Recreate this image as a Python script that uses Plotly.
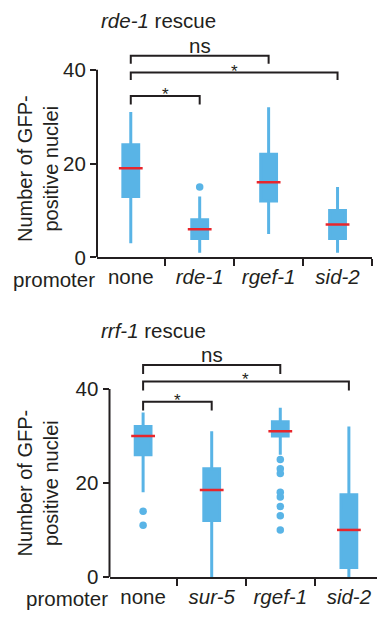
import plotly.graph_objects as go

# ---------------- data ----------------
top_categories = ["none", "rde-1", "rgef-1", "sid-2"]
top_tick_labels = ["none", "<i>rde-1</i>", "<i>rgef-1</i>", "<i>sid-2</i>"]
top_lower = [3, 1, 5, 1]
top_q1 = [13, 4, 12, 4]
top_median = [19, 6, 16, 7]
top_q3 = [24, 8, 22, 10]
top_upper = [31, 13, 32, 15]
top_outlier_idx = [1]
top_outlier_y = [15]
top_bracket_pairs = [(0, 2), (0, 3), (0, 1)]
top_bracket_top = [43.0, 39.4, 34.4]
top_bracket_leg = [41.3, 37.8, 32.6]
top_bracket_text = ["ns", "*", "*"]
top_title = "<i>rde-1</i> rescue"

bot_categories = ["none", "sur-5", "rgef-1", "sid-2"]
bot_tick_labels = ["none", "<i>sur-5</i>", "<i>rgef-1</i>", "<i>sid-2</i>"]
bot_lower = [18, 0, 26, 0]
bot_q1 = [26, 12, 30, 2]
bot_median = [30, 18.5, 31, 10]
bot_q3 = [32, 23, 33, 17.5]
bot_upper = [35, 31, 36, 32]
bot_outlier_idx = [0, 0, 2, 2, 2, 2, 2, 2, 2, 2]
bot_outlier_y = [14, 11, 25, 23, 22, 18, 17, 15, 13, 10]
bot_bracket_pairs = [(0, 2), (0, 3), (0, 1)]
bot_bracket_top = [45.1, 41.6, 37.3]
bot_bracket_leg = [43.2, 39.7, 35.4]
bot_bracket_text = ["ns", "*", "*"]
bot_title = "<i>rrf-1</i> rescue"

y_ticks = [0, 20, 40]
y_title = "Number of GFP-<br>positive nuclei"
x_prefix = "promoter"

# ---------------- style ----------------
BLUE = "#59b4e6"
RED = "#e8262c"
DARK = "#231f20"
FONT = "Arial, Liberation Sans, Helvetica, sans-serif"
FS = 20.5
W, H = 377, 622

fig = go.Figure()


def add_panel(xa, ya, labels, lower, q1, med, q3, upper, out_idx, out_y,
              pairs, btop, bleg, btext):
    xr, yr = xa, ya
    fig.add_trace(go.Box(
        x=labels, q1=q1, median=med, q3=q3, lowerfence=lower, upperfence=upper,
        width=0.23, whiskerwidth=0, boxpoints=False,
        line=dict(color=BLUE, width=3), fillcolor=BLUE,
        xaxis=xr, yaxis=yr, hoverinfo="skip", showlegend=False))
    fig.add_trace(go.Scatter(
        x=labels, y=med, mode="markers",
        marker=dict(symbol="line-ew", size=17, line=dict(color=RED, width=2.5)),
        xaxis=xr, yaxis=yr, hoverinfo="skip", showlegend=False))
    fig.add_trace(go.Scatter(
        x=[labels[i] for i in out_idx], y=out_y, mode="markers",
        marker=dict(symbol="circle", size=7.5, color=BLUE),
        xaxis=xr, yaxis=yr, hoverinfo="skip", showlegend=False))
    for (i, j), t, lg, txt in zip(pairs, btop, bleg, btext):
        fig.add_trace(go.Scatter(
            x=[labels[i], labels[i], labels[j], labels[j]],
            y=[lg, t, t, lg], mode="lines",
            line=dict(color=DARK, width=2),
            xaxis=xr, yaxis=yr, hoverinfo="skip", showlegend=False))
        star = txt == "*"
        fig.add_annotation(
            x=(i + j) / 2, y=t, xref=xr, yref=yr, text=txt, showarrow=False,
            xanchor="center", yanchor="bottom", yshift=-10 if star else -3,
            font=dict(size=17 if star else FS, color=DARK, family=FONT))


add_panel("x", "y", top_tick_labels, top_lower, top_q1, top_median, top_q3,
          top_upper, top_outlier_idx, top_outlier_y, top_bracket_pairs,
          top_bracket_top, top_bracket_leg, top_bracket_text)
add_panel("x2", "y2", bot_tick_labels, bot_lower, bot_q1, bot_median, bot_q3,
          bot_upper, bot_outlier_idx, bot_outlier_y, bot_bracket_pairs,
          bot_bracket_top, bot_bracket_leg, bot_bracket_text)

xcommon = dict(type="category", tickson="boundaries", ticks="outside",
               ticklen=7, tickwidth=2, tickcolor=DARK, showline=True,
               linewidth=2, linecolor=DARK, showgrid=False, zeroline=False,
               tickfont=dict(size=FS, color=DARK, family=FONT))
ycommon = dict(range=[0, 46], tickvals=y_ticks, ticks="outside", ticklen=6,
               tickwidth=2, tickcolor=DARK, showline=False, showgrid=False,
               zeroline=False, tickfont=dict(size=FS, color=DARK, family=FONT))

fig.update_layout(
    width=W, height=H, margin=dict(l=0, r=0, t=0, b=0),
    paper_bgcolor="white", plot_bgcolor="white", showlegend=False,
    font=dict(family=FONT, color=DARK),
    xaxis=dict(domain=[97 / W, 372 / W], anchor="y", range=[-0.49, 3.5],
               categoryorder="array", categoryarray=top_tick_labels, **xcommon),
    yaxis=dict(domain=[1 - 262 / H, 1 - 42.35 / H], anchor="x", **ycommon),
    xaxis2=dict(domain=[109.5 / W, 1.0], anchor="y2", range=[-0.49, 3.41],
                categoryorder="array", categoryarray=bot_tick_labels, **xcommon),
    yaxis2=dict(domain=[1 - 587.3 / H, 1 - 367.3 / H], anchor="x2", **ycommon),
)

# y axis lines (only up to top tick), axis titles, "promoter" prefix
for xr, yr, ys in (("x", "y", -5), ("x2", "y2", 0)):
    fig.add_shape(type="line", xref=xr + " domain", yref=yr, x0=0, x1=0,
                  y0=y_ticks[0], y1=y_ticks[-1], line=dict(color=DARK, width=2))
    fig.add_annotation(text=y_title, textangle=-90, showarrow=False,
                       xref="paper", x=37.5 / W, xanchor="center",
                       yref=yr, y=(y_ticks[0] + y_ticks[-1]) / 2, yanchor="middle",
                       yshift=ys, font=dict(size=20, color=DARK, family=FONT))
    fig.add_annotation(text=x_prefix, showarrow=False, xref=xr + " domain", x=0,
                       xanchor="right", xshift=0, yref=yr + " domain", y=0,
                       yanchor="middle", yshift=-22,
                       font=dict(size=FS, color=DARK, family=FONT))

fig.add_annotation(text=top_title, showarrow=False, xref="paper", x=99 / W,
                   xanchor="left", yref="paper", y=1 - 21 / H, yanchor="middle",
                   font=dict(size=FS, color=DARK, family=FONT))
fig.add_annotation(text=bot_title, showarrow=False, xref="paper", x=99 / W,
                   xanchor="left", yref="paper", y=1 - 336 / H, yanchor="middle",
                   font=dict(size=FS, color=DARK, family=FONT))

fig.write_html("out.html",
               config={"displayModeBar": False, "staticPlot": True},
               post_script="document.body.style.margin='0px';"
                           "document.body.style.overflow='hidden';")
